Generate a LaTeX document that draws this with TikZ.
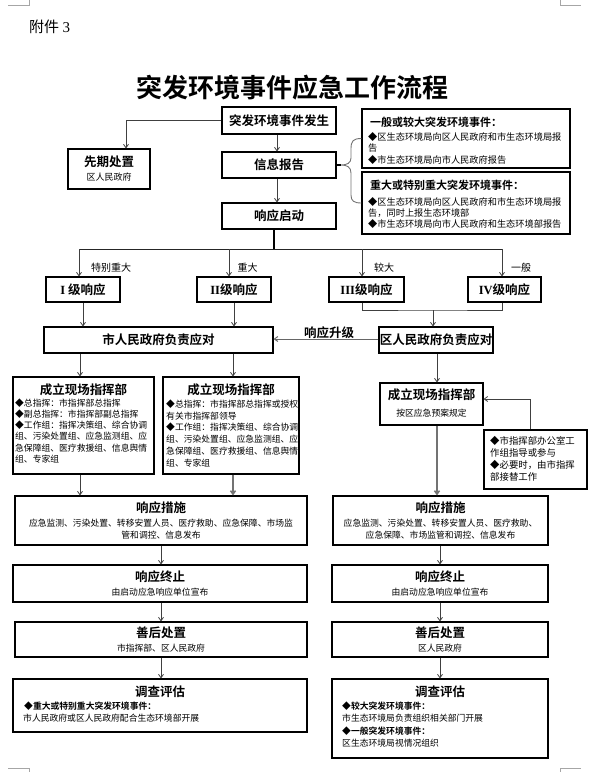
\documentclass[tikz,border=0pt]{standalone}
\usepackage{fontspec}
\setmainfont{Noto Sans CJK SC}[BoldFont={Noto Sans CJK SC Bold}]
\newfontfamily\tnr{Liberation Serif}
\usetikzlibrary{arrows.meta}
\newcommand\mkbox[6]{\node[box,minimum width={#4-#2},minimum height={#5-#3}] (#1) at ({(#2+#4)/2},{(#3+#5)/2}) {#6};}
\newcommand\txl[4]{\node[#1,anchor=base west] (#2) at (#3) {#4};}
\newcommand\txc[4]{\node[#1,anchor=base] (#2) at (#3) {#4};}
\begin{document}
\begin{tikzpicture}[x=1pt,y=-1pt,
  box/.style={draw=black,line width=1.1pt,inner sep=0pt,font=\fontsize{12.5}{14}\selectfont\bfseries},
  arr/.style={draw=black!75,line width=0.8pt,-{Straight Barb[length=3.5pt,width=5pt]}},
  garr/.style={draw=black!55,line width=1.5pt,-{Straight Barb[length=3.5pt,width=5pt]}},
  ln/.style={draw=black!75,line width=0.8pt},
  ttl/.style={font=\fontsize{12.5}{14}\selectfont\bfseries,inner sep=0pt},
  hdr/.style={font=\fontsize{11}{13}\selectfont\bfseries,inner sep=0pt},
  sml/.style={font=\fontsize{8.8}{11}\selectfont,inner sep=0pt},
  smb/.style={font=\fontsize{8.8}{11}\selectfont\bfseries,inner sep=0pt},
  inf/.style={font=\fontsize{9.2}{11}\selectfont,inner sep=0pt},
  lvl/.style={font=\fontsize{10}{12}\selectfont,inner sep=0pt},
  crop/.style={draw=black!35,line width=0.6pt}
]
\useasboundingbox (0,0) rectangle (598,772);
% crop marks
\draw[crop] (8,5) -- (29,5) -- (29,0);
\draw[crop] (560,0) -- (560,5) -- (581,5);
\draw[crop] (8,768) -- (29,768) -- (29,772);
\draw[crop] (581,768) -- (560,768) -- (560,772);

\txl{inner sep=0pt,font=\fontsize{15}{17}\selectfont}{fj}{29,32.7}{附件 {\tnr 3}}
\txc{inner sep=0pt,font=\fontsize{26}{30}\selectfont\bfseries}{title}{292,97.9}{突发环境事件应急工作流程}

% top boxes
\mkbox{A}{222}{107}{336}{134}{突发环境事件发生}
\mkbox{B}{68}{149}{150}{189}{}
\txc{ttl}{Bt}{109,166.8}{先期处置}
\txc{font=\fontsize{9}{11}\selectfont,inner sep=0pt}{Bs}{109,180.4}{区人民政府}
\mkbox{C}{222}{152}{336}{178}{信息报告}
\mkbox{D}{222}{203}{336}{229}{响应启动}

% info boxes
\mkbox{U}{362}{109}{570}{168}{}
\txl{hdr}{Ut}{370,126.2}{一般或较大突发环境事件：}
\txl{inf}{U1}{368,140.5}{◆区生态环境局向区人民政府和市生态环境局报}
\txl{inf}{U2}{368,151.5}{告}
\txl{inf}{U3}{368,163.5}{◆市生态环境局向市人民政府报告}
\mkbox{L}{362}{172}{570}{234}{}
\txl{hdr}{Lt}{370,189.2}{重大或特别重大突发环境事件：}
\txl{inf}{L1}{368,205.5}{◆区生态环境局向区人民政府和市生态环境局报}
\txl{inf}{L2}{368,216.5}{告，同时上报生态环境部}
\txl{inf}{L3}{368,227.5}{◆市生态环境局向市人民政府和生态环境部报告}

% brace
\coordinate (tip) at (341,165);
\draw[draw=black!55,line width=0.9pt] (U.west) .. controls (353,138.5) and (351,141) .. (351,149) -- (351,158) .. controls (351,163) and (347,165) .. (tip) .. controls (347,165) and (351,167) .. (351,173) -- (351,195) .. controls (351,201) and (354,203) .. (L.west);
\draw[line width=1.4pt] (C.east) -- (tip);

% arrows top
\draw[arr] (A.west) -| ([xshift=17pt]B.north);
\draw[arr] ([xshift=-2pt]A.south) -- ([xshift=-2pt]C.north);
\draw[arr] ([xshift=-2pt]C.south) -- ([xshift=-2pt]D.north);

% level boxes
\mkbox{I}{46}{277}{120}{302}{{\tnr I} 级响应}
\mkbox{II}{197}{277}{271}{302}{{\tnr II}级响应}
\mkbox{III}{329}{277}{404}{302}{{\tnr III}级响应}
\mkbox{IV}{468}{277}{541}{302}{{\tnr IV}级响应}

\coordinate (hj) at (274,249);
\coordinate (hl) at (79,249);
\coordinate (hr) at (502,249);
\draw[line width=1.6pt] ([xshift=-5pt]D.south) -- (hj);
\draw[ln,draw=black!85] (hl) -- (hr);
\draw[arr] (hl) -- ([xshift=-4pt]I.north);
\draw[arr] ([xshift=-5pt]II.north |- hl) -- ([xshift=-5pt]II.north);
\draw[arr] ([xshift=-4.5pt]III.north |- hl) -- ([xshift=-4.5pt]III.north);
\draw[arr] (hr) -- ([xshift=-2.5pt]IV.north);

\txc{lvl}{l1}{111,271.8}{特别重大}
\txc{lvl}{l2}{247.5,271.8}{重大}
\txc{lvl}{l3}{384,271.8}{较大}
\txc{lvl}{l4}{521,271.8}{一般}

% city / district
\mkbox{City}{44}{327}{273}{353}{市人民政府负责应对}
\mkbox{Dist}{379}{327}{493}{353}{区人民政府负责应对}
\draw[arr] (I.south) -- (I.south |- City.north);
\draw[arr] (II.south) -- (II.south |- City.north);
\coordinate (jm) at (433,310);
\draw[ln] ([xshift=-4.5pt]III.south) |- (jm) -| ([xshift=-2.5pt]IV.south);
\draw[arr] (jm) -- ([xshift=-3pt]Dist.north);
\draw[arr,draw=black!60,line width=1pt] ([yshift=1pt]Dist.west) -- ([yshift=1pt]City.east);
\txc{ttl}{up}{329,337.4}{响应升级}

% command boxes
\mkbox{CmdL}{13}{377}{154}{474}{}
\txc{ttl}{CLt}{83.5,394.8}{成立现场指挥部}
\txl{sml}{CL1}{15,406.3}{◆总指挥：市指挥部总指挥}
\txl{sml}{CL2}{15,417.5}{◆副总指挥：市指挥部副总指挥}
\txl{sml}{CL3}{15,428.7}{◆工作组：指挥决策组、综合协调}
\txl{sml}{CL4}{15,439.9}{组、污染处置组、应急监测组、应}
\txl{sml}{CL5}{15,451.1}{急保障组、医疗救援组、信息舆情}
\txl{sml}{CL6}{15,462.3}{组、专家组}

\mkbox{CmdM}{163}{377}{299}{474}{}
\txc{ttl}{CMt}{231,394.8}{成立现场指挥部}
\txl{sml}{CM1}{166,407.3}{◆总指挥：市指挥部总指挥或授权}
\txl{sml}{CM2}{166,419.1}{有关市指挥部领导}
\txl{sml}{CM3}{166,430.9}{◆工作组：指挥决策组、综合协调}
\txl{sml}{CM4}{166,442.7}{组、污染处置组、应急监测组、应}
\txl{sml}{CM5}{166,454.5}{急保障组、医疗救援组、信息舆情}
\txl{sml}{CM6}{166,466.3}{组、专家组}

\mkbox{CmdR}{380}{383}{483}{425}{}
\txc{ttl}{CRt}{431.5,399.8}{成立现场指挥部}
\txc{sml}{CRs}{431.5,416.3}{按区应急预案规定}

\mkbox{Note}{484}{430}{587}{489}{}
\txl{font=\fontsize{9.4}{11}\selectfont,inner sep=0pt}{N1}{490,444.6}{◆市指挥部办公室工}
\txl{font=\fontsize{9.4}{11}\selectfont,inner sep=0pt}{N2}{490,456.6}{作组指导或参与}
\txl{font=\fontsize{9.4}{11}\selectfont,inner sep=0pt}{N3}{490,468.6}{◆必要时，由市指挥}
\txl{font=\fontsize{9.4}{11}\selectfont,inner sep=0pt}{N4}{490,480.6}{部接替工作}

\draw[arr] ([xshift=-3.5pt]CmdL.north |- City.south) -- ([xshift=-3.5pt]CmdL.north);
\draw[arr] ([xshift=2pt]CmdM.north |- City.south) -- ([xshift=2pt]CmdM.north);
\draw[arr] ([xshift=1pt]Dist.south) -- ([xshift=1pt]Dist.south |- CmdR.north);
\draw[arr] ([xshift=-5.5pt]Note.north) |- ([yshift=5pt]CmdR.east);

% measures
\mkbox{MeasL}{15}{496}{307}{545}{}
\txc{ttl}{MLt}{161,512.8}{响应措施}
\txc{sml}{ML1}{161,526.3}{应急监测、污染处置、转移安置人员、医疗救助、应急保障、市场监}
\txc{sml}{ML2}{161,538.3}{管和调控、信息发布}
\mkbox{MeasR}{333}{496}{548}{545}{}
\txc{ttl}{MRt}{440.5,512.8}{响应措施}
\txc{sml}{MR1}{440.5,526.3}{应急监测、污染处置、转移安置人员、医疗救助、}
\txc{sml}{MR2}{440.5,538.3}{应急保障、市场监管和调控、信息发布}

\draw[arr] ([xshift=-3.5pt]CmdL.south) -- ([xshift=-3.5pt]CmdL.south |- MeasL.north);
\draw[garr] ([xshift=2pt]CmdM.south) -- ([xshift=2pt]CmdM.south |- MeasL.north);
\draw[garr] ([xshift=1pt]Dist.south |- CmdR.south) -- ([xshift=1pt]Dist.south |- MeasR.north);

% termination
\mkbox{TermL}{13}{565}{307}{602}{}
\txc{ttl}{TLt}{160,581.8}{响应终止}
\txc{sml}{TLs}{160,595.3}{由启动应急响应单位宣布}
\mkbox{TermR}{332}{565}{548}{602}{}
\txc{ttl}{TRt}{440,581.8}{响应终止}
\txc{sml}{TRs}{440,595.3}{由启动应急响应单位宣布}

% aftermath
\mkbox{AftL}{15}{622}{307}{657}{}
\txc{ttl}{ALt}{161,637.8}{善后处置}
\txc{sml}{ALs}{161,651.3}{市指挥部、区人民政府}
\mkbox{AftR}{332}{622}{548}{657}{}
\txc{ttl}{ARt}{440,637.8}{善后处置}
\txc{sml}{ARs}{440,651.3}{区人民政府}

% investigation
\mkbox{InvL}{13}{679}{307}{732}{}
\txc{ttl}{ILt}{160,696.8}{调查评估}
\txl{smb}{IL1}{24,709.3}{◆重大或特别重大突发环境事件：}
\txl{sml}{IL2}{23,721.3}{市人民政府或区人民政府配合生态环境部开展}
\mkbox{InvR}{332}{679}{548}{758}{}
\txc{ttl}{IRt}{440,696.8}{调查评估}
\txl{smb}{IR1}{342,709.3}{◆较大突发环境事件：}
\txl{sml}{IR2}{342,721.3}{市生态环境局负责组织相关部门开展}
\txl{smb}{IR3}{342,734.3}{◆一般突发环境事件：}
\txl{sml}{IR4}{342,746.3}{区生态环境局视情况组织}

% vertical chain arrows
\draw[arr] ([xshift=0pt]MeasL.south) -- (MeasL.south |- TermL.north);
\draw[arr] (MeasL.south |- TermL.south) -- (MeasL.south |- AftL.north);
\draw[arr] (MeasL.south |- AftL.south) -- (MeasL.south |- InvL.north);
\draw[arr] ([xshift=-0.5pt]MeasR.south) -- ([xshift=-0.5pt]MeasR.south |- TermR.north);
\draw[arr] ([xshift=-0.5pt]MeasR.south |- TermR.south) -- ([xshift=-0.5pt]MeasR.south |- AftR.north);
\draw[arr] ([xshift=-0.5pt]MeasR.south |- AftR.south) -- ([xshift=-0.5pt]MeasR.south |- InvR.north);
\end{tikzpicture}
\end{document}
